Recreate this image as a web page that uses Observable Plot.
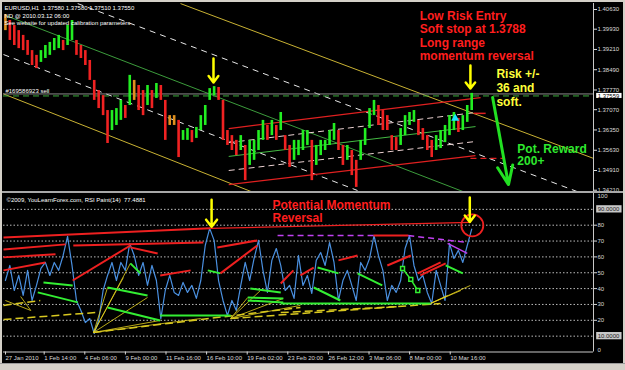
<!DOCTYPE html>
<html>
<head>
<meta charset="utf-8">
<script src="https://cdn.jsdelivr.net/npm/d3@7"></script>
<script src="https://cdn.jsdelivr.net/npm/@observablehq/plot@0.6"></script>
<style>
  html, body { margin:0; padding:0; }
  body { width:625px; height:370px; background:#d4d0c8; position:relative; overflow:hidden; }
  #frame { position:absolute; left:2px; top:2px; width:621px; height:361px; background:#000; }
  #price { position:absolute; left:0; top:1px; }
  #sep { position:absolute; left:0; top:189px; width:621px; height:2px; background:#a8a8a8; }
  #rsi { position:absolute; left:0; top:191px; }
  #status { position:absolute; left:0; top:363px; width:625px; height:7px; background:#d4d0c8; border-top:1px solid #9a9a9a; }
</style>
</head>
<body>
<div id="frame"><div id="price"></div><div id="sep"></div><div id="rsi"></div></div>
<div id="status"></div>
<script>
// ---------- time axis (hourly bar index) ----------
const barDomain = [0, 930];
const firstBar = 3, barStep = 7;
const timeTickBars = [0, 61, 125, 189, 253, 317, 381, 445, 509, 573, 637, 701];
const timeTickLabels = ["27 Jan 2010", "1 Feb 14:00", "4 Feb 06:00", "9 Feb 00:00", "11 Feb 16:00",
  "16 Feb 10:00", "19 Feb 02:00", "23 Feb 20:00", "26 Feb 12:00", "3 Mar 06:00", "8 Mar 00:00", "10 Mar 16:00"];

// ---------- price panel ----------
const priceDomain = [1.34164, 1.40843];
const priceTicks = [1.40630, 1.39930, 1.39210, 1.38490, 1.37770, 1.37070, 1.36350, 1.35630, 1.34910, 1.34210];
const currentPrice = 1.37559;
const bidLevel = 1.3763;

const candleHigh = [1.4045,1.4024,1.4006,1.3988,1.3971,1.3953,1.3917,1.3900,1.3917,1.3935,
1.3946,1.3960,1.3971,1.3953,1.4006,1.4024,1.3953,1.3935,1.3917,1.3882,
1.3811,1.3775,1.3757,1.3704,1.3704,1.3711,1.3740,1.3722,1.3829,1.3811,
1.3793,1.3775,1.3793,1.3775,1.3800,1.3793,1.3740,1.3686,1.3686,1.3669,
1.3633,1.3640,1.3633,1.3644,1.3686,1.3722,1.3782,1.3789,1.3786,1.3740,
1.3633,1.3615,1.3598,1.3615,1.3580,1.3598,1.3598,1.3633,1.3669,1.3651,
1.3669,1.3651,1.3697,1.3615,1.3580,1.3598,1.3598,1.3633,1.3633,1.3598,
1.3580,1.3598,1.3598,1.3633,1.3658,1.3633,1.3580,1.3580,1.3562,1.3527,
1.3598,1.3640,1.3711,1.3740,1.3722,1.3704,1.3686,1.3615,1.3608,1.3640,
1.3686,1.3697,1.3704,1.3669,1.3640,1.3615,1.3598,1.3615,1.3633,1.3651,
1.3686,1.3697,1.3676,1.3686,1.3722,1.3765];
const candleLow = [1.3988,1.3953,1.3935,1.3924,1.3917,1.3900,1.3864,1.3853,1.3875,1.3889,
1.3900,1.3917,1.3924,1.3917,1.3935,1.3953,1.3900,1.3889,1.3864,1.3811,
1.3740,1.3711,1.3686,1.3587,1.3633,1.3651,1.3669,1.3676,1.3722,1.3740,
1.3704,1.3686,1.3722,1.3711,1.3747,1.3740,1.3598,1.3651,1.3651,1.3537,
1.3598,1.3598,1.3590,1.3605,1.3633,1.3651,1.3740,1.3757,1.3740,1.3598,
1.3580,1.3562,1.3544,1.3562,1.3455,1.3509,1.3527,1.3562,1.3598,1.3598,
1.3615,1.3598,1.3633,1.3562,1.3502,1.3527,1.3544,1.3562,1.3580,1.3455,
1.3509,1.3544,1.3562,1.3580,1.3598,1.3562,1.3509,1.3527,1.3473,1.3431,
1.3527,1.3580,1.3640,1.3686,1.3651,1.3633,1.3633,1.3562,1.3562,1.3580,
1.3615,1.3651,1.3662,1.3615,1.3598,1.3562,1.3537,1.3562,1.3569,1.3590,
1.3615,1.3633,1.3626,1.3633,1.3662,1.3704];

// channel lines [bar1, price1, bar2, price2]
const yellowChannel = [[279,1.4084,930,1.3534],[0,1.3763,394,1.3413]];
const whiteChannel = [[117,1.4084,908,1.3413],[0,1.3903,558,1.3420]];
const greenTrend = [[3,1.4042,728,1.3413]];
const redChannel = [[355,1.3640,752,1.3750],[355,1.3441,744,1.3544]];
const redChannelMid = [[355,1.3541,744,1.3647]];
const redChannelInner = [[355,1.3590,744,1.3697],[355,1.3491,744,1.3594]];
const redStopDashed = [[736,1.3534,790,1.3534]];
const redStopShort = [[741,1.3694,760,1.3694]];
const priceArrows = [[331,1.3889,331,1.3804],[736,1.3864,736,1.3782]];
const rewardArrow = [[771,1.3750,796,1.3441]];
const cyanMark = [[712,1.3676]];

const headerLines = "EURUSD,H1  1.37580 1.37580 1.37510 1.37550\nND @ 2010.03.12 06:00\nSee website for updated calibration parameters";
const orderLabel = [{bar:3, price:1.3766, text:"#169586923 sell"}];
const entryNote = [{bar:656, price:1.38818, text:"Low Risk Entry\nSoft stop at 1.3788\nLong range\nmomentum reversal"}];
const riskNote = [{bar:777, price:1.37184, text:"Risk +/-\n36 and\nsoft."}];
const rewardNote = [{bar:810, price:1.35088, text:"Pot. Reward\n200+"}];

// ---------- RSI panel ----------
const rsiValues = [45.1,54.6,38.8,48.3,35.7,51.5,32.5,42.0,52.7,56.5,
48.3,56.5,51.5,60.9,72.9,54.6,32.5,26.2,18.6,21.1,
11.7,19.9,38.8,48.3,56.5,45.1,56.5,51.5,68.5,60.9,
48.3,56.5,42.0,54.6,45.1,21.1,38.8,48.3,37.6,35.7,
43.9,37.6,42.0,33.8,45.1,67.2,78.0,70.4,45.1,32.5,
23.0,32.5,26.2,42.0,56.5,45.1,59.0,70.4,51.5,37.6,
57.8,65.3,54.6,38.8,42.0,33.8,60.9,42.0,48.3,36.9,
57.8,62.8,54.6,69.1,56.5,32.5,45.1,51.5,42.0,32.5,
56.5,51.5,59.0,73.5,60.9,51.5,32.5,42.0,37.6,45.1,
65.3,73.5,54.6,45.1,48.3,37.6,30.6,51.5,42.0,32.5,
68.5,59.0,64.1,56.5,67.2,77.5];
const rsiLevels = [10,20,30,40,50,60,70,80,90];
const rsiAxisTicks = [20,30,40,50,60,70,80];
const rsiBoxLevels = [{v:90, text:"90.0000"},{v:10, text:"10.0000"}];
const rsiHeader = "\u00a92009, YouLearnForex.com, RSI Paint(14)  77.4881";

const rsiRed = [[0,72.3,326,78.0],[0,64.7,98,67.9],[0,59.7,82,61.6],[0,51.5,66,56.5],
 [109,45.1,200,67.2],[110,67.2,315,69.1],[200,66.0,243,62.2],[247,48.3,295,51.5],
 [337,66.0,400,70.4],[342,49.6,400,67.2],[437,43.2,457,51.5],[468,48.3,489,53.3],
 [528,57.8,558,60.9],[583,73.5,638,73.5],[605,54.6,642,60.9],[653,49.6,689,56.5],[657,48.3,697,55.9]];
const rsiRedThin = [[326,78.0,736,81.8]];
const rsiPurpleDash = [[432,73.5,583,73.5],[638,73.5,731,69.1]];
const rsiPurple = [[700,68.5,731,62.2]];
const rsiGreen = [[63,43.9,109,42.0],[54,37.6,117,31.3],[200,55.9,216,49.6],[164,40.7,227,35.7],
 [164,28.1,247,19.9],[247,23.0,358,23.0],[322,51.5,342,49.6],[389,40.1,437,37.6],
 [385,34.4,441,33.8],[385,32.5,441,31.3],[495,53.3,528,49.6],[489,40.7,531,32.5],
 [558,49.6,597,42.0],[437,30.6,673,30.6],[697,54.6,724,49.6]];
const rsiGreenMarked = [[629,52.7],[642,45.8],[653,38.8]];
const rsiYellowDash = [[0,20.5,145,24.9],[142,12.3,468,28.1],[358,21.1,689,30.6],[437,24.9,626,28.7],[0,29.4,58,32.5]];
const rsiYellowFans = [
  {from:[142,12.3], to:[[189,47.0],[227,34.4],[247,19.9],[311,21.1],[200,55.9],[164,40.7]]},
  {from:[358,21.1], to:[[385,34.4],[405,38.8],[441,33.8],[468,29.4]]},
  {from:[673,30.6], to:[[700,35.7],[721,38.8],[736,42.0]]},
  {from:[43,26.2], to:[[3,32.5],[27,35.0]]}
];
const rsiArrows = [[328,96,328,79],[735,97.5,735,82]];
const rsiCircle = [[739,79.9]];
const rsiNote = [{bar:424, rsi:81.9, text:"Potential Momentum\nReversal"}];

// ---------- helpers ----------
const seg = ([x1,y1,x2,y2]) => ({x1,y1,x2,y2});
const linkOpts = {x1:"x1", y1:"y1", x2:"x2", y2:"y2"};
const FONT = "Liberation Sans, Arial, sans-serif";
const boxX1 = barDomain[1] + 5, boxX2 = barDomain[1] + 45;

const candles = candleHigh.map((hi, i) => {
  const lo = candleLow[i];
  const mid = (hi + lo) / 2;
  const prev = i ? (candleHigh[i-1] + candleLow[i-1]) / 2 : mid;
  const d = mid - prev;
  return {bar: firstBar + barStep * i, hi, lo,
    color: d > 0.0003 ? "#22ee22" : d < -0.0003 ? "#f02222" : "#e0901e"};
});

const pricePlot = Plot.plot({
  width: 621, height: 188,
  marginLeft: 1, marginRight: 30, marginTop: 0, marginBottom: 0,
  x: {domain: barDomain, axis: null},
  y: {domain: priceDomain, axis: null},
  color: {type: "identity"},
  style: {background: "transparent", color: "#dcdcdc", fontFamily: FONT, fontSize: "6px", overflow: "visible"},
  marks: [
    Plot.link(yellowChannel.map(seg), {...linkOpts, stroke: "#c9b233", strokeWidth: 1, clip: true}),
    Plot.link(whiteChannel.map(seg), {...linkOpts, stroke: "#e8e8e8", strokeWidth: 1, strokeDasharray: "6,5", clip: true}),
    Plot.link(greenTrend.map(seg), {...linkOpts, stroke: "#3c9c3c", strokeWidth: 1, clip: true}),
    Plot.ruleY([bidLevel], {stroke: "#8c8c8c", strokeWidth: 1}),
    Plot.ruleY([currentPrice], {stroke: "#3caa3c", strokeWidth: 1, strokeDasharray: "6,4"}),
    Plot.link(redChannelInner.map(seg), {...linkOpts, stroke: "#ecd2d2", strokeWidth: 1, strokeDasharray: "6,4"}),
    Plot.link(redChannelMid.map(seg), {...linkOpts, stroke: "#44bb44", strokeWidth: 1}),
    Plot.link(redChannel.map(seg), {...linkOpts, stroke: "#e02020", strokeWidth: 1.2}),
    Plot.link(redStopDashed.map(seg), {...linkOpts, stroke: "#e02020", strokeWidth: 1.2, strokeDasharray: "6,4"}),
    Plot.ruleX(candles, {x: "bar", y1: "lo", y2: "hi", stroke: "color", strokeWidth: 2.6}),
    Plot.link(redStopShort.map(seg), {...linkOpts, stroke: "#e02020", strokeWidth: 1.5}),
    Plot.dot(cyanMark, {x: d => d[0], y: d => d[1], symbol: "triangle", r: 3, fill: "#19e6ff"}),
    Plot.arrow(priceArrows.map(seg), {...linkOpts, stroke: "#ffff00", strokeWidth: 2.5, headLength: 6, headAngle: 75}),
    Plot.arrow(rewardArrow.map(seg), {...linkOpts, stroke: "#22e022", strokeWidth: 3, headLength: 10, headAngle: 45}),
    Plot.text([headerLines], {frameAnchor: "top-left", dx: 1, dy: 2, lineAnchor: "top", lineHeight: 1.17, fill: "#ffffff", fontSize: 6, textAnchor: "start"}),
    Plot.text(orderLabel, {x: "bar", y: "price", text: "text", lineAnchor: "bottom", textAnchor: "start", fill: "#ffffff", fontSize: 6}),
    Plot.text(entryNote, {x: "bar", y: "price", text: "text", lineAnchor: "bottom", textAnchor: "start", lineHeight: 1.125, fill: "#ff1e1e", fontSize: 12, fontWeight: "bold"}),
    Plot.text(riskNote, {x: "bar", y: "price", text: "text", lineAnchor: "bottom", textAnchor: "start", lineHeight: 1.167, fill: "#ffff3a", fontSize: 12, fontWeight: "bold"}),
    Plot.text(rewardNote, {x: "bar", y: "price", text: "text", lineAnchor: "bottom", textAnchor: "start", lineHeight: 1.083, fill: "#2ee82e", fontSize: 12, fontWeight: "bold"}),
    Plot.ruleX([barDomain[1]], {stroke: "#c8c8c8", strokeWidth: 1}),
    Plot.axisY({anchor: "right", ticks: priceTicks, tickFormat: d3.format(".5f"), tickSize: 3, tickPadding: 1, fontSize: 6, label: null}),
    Plot.rect([currentPrice], {x1: boxX1, x2: boxX2, y1: d => d - 0.0009, y2: d => d + 0.0009, fill: "#ffffff"}),
    Plot.text([currentPrice], {x: boxX1, y: d => d, text: d => d3.format(".5f")(d), dx: 1, textAnchor: "start", fill: "#000000", fontSize: 6})
  ]
});
document.getElementById("price").appendChild(pricePlot);

const rsiData = rsiValues.map((v, i) => ({bar: firstBar + barStep * i, rsi: v}));
const fanSegs = rsiYellowFans.flatMap(f => f.to.map(t => ({x1: f.from[0], y1: f.from[1], x2: t[0], y2: t[1]})));

const rsiPlot = Plot.plot({
  width: 621, height: 170,
  marginLeft: 1, marginRight: 30, marginTop: 0, marginBottom: 11.5,
  x: {domain: barDomain, axis: null},
  y: {domain: [0, 100], axis: null},
  style: {background: "transparent", color: "#d8d8d8", fontFamily: FONT, fontSize: "6px", overflow: "visible"},
  marks: [
    Plot.ruleY(rsiLevels, {stroke: "#bcbcbc", strokeWidth: 1, strokeDasharray: "1.5,2"}),
    Plot.line(rsiData, {x: "bar", y: "rsi", stroke: "#4a90e0", strokeWidth: 1.2}),
    Plot.link(fanSegs, {...linkOpts, stroke: "#e6d21e", strokeWidth: 0.8}),
    Plot.link(rsiYellowDash.map(seg), {...linkOpts, stroke: "#d8c820", strokeWidth: 1.5, strokeDasharray: "8,4"}),
    Plot.link(rsiGreen.map(seg), {...linkOpts, stroke: "#33ee33", strokeWidth: 2}),
    Plot.line(rsiGreenMarked, {x: d => d[0], y: d => d[1], stroke: "#33ee33", strokeWidth: 1.5}),
    Plot.dot(rsiGreenMarked, {x: d => d[0], y: d => d[1], symbol: "square", r: 2.2, stroke: "#33ee33", fill: "#000"}),
    Plot.link(rsiRed.map(seg), {...linkOpts, stroke: "#ee2020", strokeWidth: 2}),
    Plot.link(rsiRedThin.map(seg), {...linkOpts, stroke: "#ee2020", strokeWidth: 1.3}),
    Plot.link(rsiPurpleDash.map(seg), {...linkOpts, stroke: "#c040f0", strokeWidth: 1.5, strokeDasharray: "6,4"}),
    Plot.link(rsiPurple.map(seg), {...linkOpts, stroke: "#c040f0", strokeWidth: 1.5}),
    Plot.dot(rsiCircle, {x: d => d[0], y: d => d[1], r: 11, stroke: "#ee2020", strokeWidth: 1.8, fill: "none"}),
    Plot.arrow(rsiArrows.map(seg), {...linkOpts, stroke: "#ffff00", strokeWidth: 2.5, headLength: 6, headAngle: 75}),
    Plot.text(rsiNote, {x: "bar", y: "rsi", text: "text", lineAnchor: "bottom", textAnchor: "start", lineHeight: 1.12, fill: "#ff1e1e", fontSize: 12, fontWeight: "bold"}),
    Plot.text([rsiHeader], {frameAnchor: "top-left", dx: 3, dy: 4, lineAnchor: "top", fill: "#ffffff", fontSize: 6, textAnchor: "start"}),
    Plot.ruleY([0], {stroke: "#c8c8c8", strokeWidth: 1}),
    Plot.ruleX([barDomain[1]], {stroke: "#c8c8c8", strokeWidth: 1}),
    Plot.axisX({anchor: "bottom", ticks: timeTickBars, tickFormat: d => timeTickLabels[timeTickBars.indexOf(d)], tickSize: 3, tickPadding: 1, textAnchor: "start", dx: 2, fontSize: 6, label: null}),
    Plot.axisY({anchor: "right", ticks: rsiAxisTicks, tickSize: 3, tickPadding: 1, fontSize: 6, label: null}),
    Plot.text([100], {x: barDomain[1], y: d => d, text: d => String(d), dx: 4, textAnchor: "start", lineAnchor: "top", fill: "#d8d8d8", fontSize: 6}),
    Plot.text([0], {x: barDomain[1], y: d => d, text: d => String(d), dx: 4, textAnchor: "start", lineAnchor: "bottom", fill: "#d8d8d8", fontSize: 6}),
    Plot.rect(rsiBoxLevels, {x1: boxX1, x2: boxX2, y1: d => d.v - 2.3, y2: d => d.v + 2.3, fill: "#c8c8c8"}),
    Plot.text(rsiBoxLevels, {x: boxX1, y: "v", text: "text", dx: 1, textAnchor: "start", fill: "#202020", fontSize: 6})
  ]
});
document.getElementById("rsi").appendChild(rsiPlot);
</script>
</body>
</html>
